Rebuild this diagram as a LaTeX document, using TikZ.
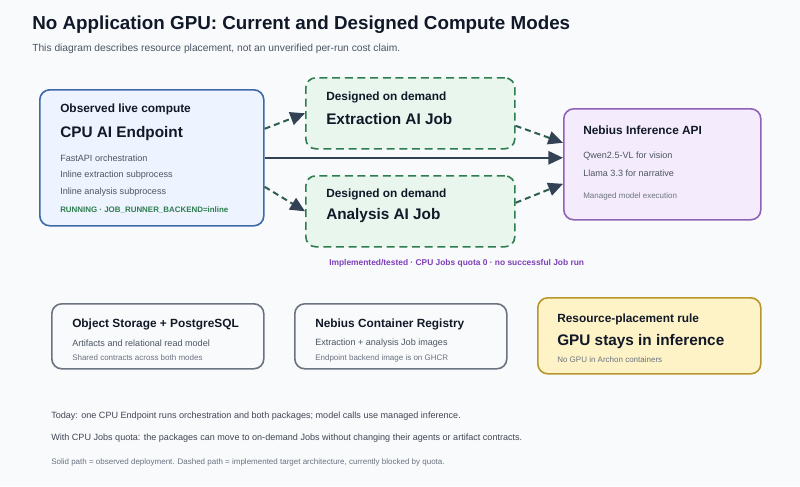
\documentclass[tikz,border=0pt]{standalone}
\usepackage{fontspec}
\setmainfont{Liberation Sans}
\usetikzlibrary{arrows.meta,calc}
\definecolor{bg}{HTML}{F8FAFC}
\definecolor{titlec}{HTML}{111827}
\definecolor{subc}{HTML}{4B5563}
\definecolor{smallc}{HTML}{6B7280}
\definecolor{epfill}{HTML}{EEF4FF}
\definecolor{epdraw}{HTML}{3D6AA6}
\definecolor{grfill}{HTML}{E9F6EE}
\definecolor{grdraw}{HTML}{2E7D4F}
\definecolor{infill}{HTML}{F4ECFD}
\definecolor{indraw}{HTML}{8E63B5}
\definecolor{gyfill}{HTML}{F9FAFB}
\definecolor{gydraw}{HTML}{6B7280}
\definecolor{yefill}{HTML}{FEF3C7}
\definecolor{yedraw}{HTML}{B8962E}
\definecolor{runc}{HTML}{2E7D4F}
\definecolor{purc}{HTML}{7E3FB8}
\definecolor{arrc}{HTML}{334155}
\definecolor{dashc}{HTML}{2F5E4E}
\newcommand{\fsz}[1]{\fontsize{#1pt}{#1pt}\selectfont}
\tikzset{
  box/.style={rounded corners=7.5pt, line width=1.2pt, inner sep=0pt, anchor=north west},
  txt/.style={anchor=west, inner sep=0pt, text=titlec},
  hd/.style={txt, font=\fsz{8.9}\bfseries},
  big/.style={txt, font=\fsz{11.5}\bfseries},
  body/.style={txt, font=\fsz{6.8}, text=subc},
  sml/.style={txt, font=\fsz{6}, text=smallc},
  solidarr/.style={draw=arrc, line width=1.5pt, -{Triangle[length=11pt,width=10pt]}},
  dasharr/.style={draw=dashc, line width=1.5pt, dash pattern=on 4.5pt off 3pt, -{Triangle[length=11pt,width=10pt,color=arrc,fill=arrc]}},
}
\begin{document}
\begin{tikzpicture}[x=0.75pt,y=-0.75pt]
\fill[bg] (0,0) rectangle (800,486);
\useasboundingbox (0,0) rectangle (800,486);
% title
\node[txt, font=\fsz{14.1}\bfseries] (title) at (32,25) {No Application GPU: Current and Designed Compute Modes};
\node[txt, font=\fsz{7.7}, text=subc] (subtitle) at (32,49) {This diagram describes resource placement, not an unverified per-run cost claim.};
% endpoint
\node[box, draw=epdraw, fill=epfill, minimum width=224*0.75pt, minimum height=136*0.75pt] (ep) at (39,89) {};
\node[hd] (ep1) at (60,109) {Observed live compute};
\node[big] (ep2) at (60,134) {CPU AI Endpoint};
\node[body] (ep3) at (60,158) {FastAPI orchestration};
\node[body] (ep4) at (60,175) {Inline extraction subprocess};
\node[body] (ep5) at (60,192) {Inline analysis subprocess};
\node[txt, font=\fsz{5.95}\bfseries, text=runc] (ep6) at (60,210) {RUNNING · JOB\_RUNNER\_BACKEND=inline};
% extraction job
\node[box, draw=grdraw, fill=grfill, dash pattern=on 6pt off 3.5pt, minimum width=209*0.75pt, minimum height=71*0.75pt] (ext) at (305,77) {};
\node[hd] (ext1) at (326,97) {Designed on demand};
\node[big] (ext2) at (326,119) {Extraction AI Job};
% analysis job
\node[box, draw=grdraw, fill=grfill, dash pattern=on 6pt off 3.5pt, minimum width=209*0.75pt, minimum height=71*0.75pt] (ana) at (305,175) {};
\node[hd] (ana1) at (326,194) {Designed on demand};
\node[big] (ana2) at (326,216) {Analysis AI Job};
% inference
\node[box, draw=indraw, fill=infill, minimum width=197*0.75pt, minimum height=111*0.75pt] (inf) at (563,108) {};
\node[hd] (inf1) at (583,130) {Nebius Inference API};
\node[body] (inf2) at (583,156) {Qwen2.5-VL for vision};
\node[body] (inf3) at (583,173) {Llama 3.3 for narrative};
\node[sml] (inf4) at (583,196) {Managed model execution};
% status
\node[txt, font=\fsz{6.3}\bfseries, text=purc] (status) at (329,263) {Implemented/tested · CPU Jobs quota 0 · no successful Job run};
% storage
\node[box, draw=gydraw, fill=gyfill, minimum width=212*0.75pt, minimum height=65*0.75pt] (st) at (51,303) {};
\node[hd] (st1) at (72,324) {Object Storage + PostgreSQL};
\node[body] (st2) at (72,343) {Artifacts and relational read model};
\node[sml] (st3) at (72,358) {Shared contracts across both modes};
% registry
\node[box, draw=gydraw, fill=gyfill, minimum width=212*0.75pt, minimum height=65*0.75pt] (reg) at (294,303) {};
\node[hd] (reg1) at (315,324) {Nebius Container Registry};
\node[body] (reg2) at (315,343) {Extraction + analysis Job images};
\node[sml] (reg3) at (315,358) {Endpoint backend image is on GHCR};
% rule
\node[box, draw=yedraw, fill=yefill, minimum width=223*0.75pt, minimum height=76*0.75pt] (rule) at (537,297) {};
\node[hd] (rule1) at (557,319) {Resource-placement rule};
\node[big] (rule2) at (557,342) {GPU stays in inference};
\node[sml] (rule3) at (557,360) {No GPU in Archon containers};
% footer
\node[body, text=titlec!80!white] (f1) at (51,416) {Today: one CPU Endpoint runs orchestration and both packages; model calls use managed inference.};
\node[body, text=titlec!80!white] (f2) at (51,438) {With CPU Jobs quota: the packages can move to on-demand Jobs without changing their agents or artifact contracts.};
\node[sml] (f3) at (51,462) {Solid path = observed deployment. Dashed path = implemented target architecture, currently blocked by quota.};
% arrows
\draw[solidarr] (ep.east) -- (ep.east -| inf.west);
\draw[dasharr] ($(ep.east)+(0,-29)$) -- (ext.west);
\draw[dasharr] ($(ep.east)+(0,29)$) -- (ana.west);
\draw[dasharr] ($(ext.east)+(0,12.5)$) -- ($(inf.west)+(0,-21.5)$);
\draw[dasharr] ($(ana.east)+(0,-8.5)$) -- ($(inf.west)+(0,19.5)$);
\end{tikzpicture}
\end{document}
